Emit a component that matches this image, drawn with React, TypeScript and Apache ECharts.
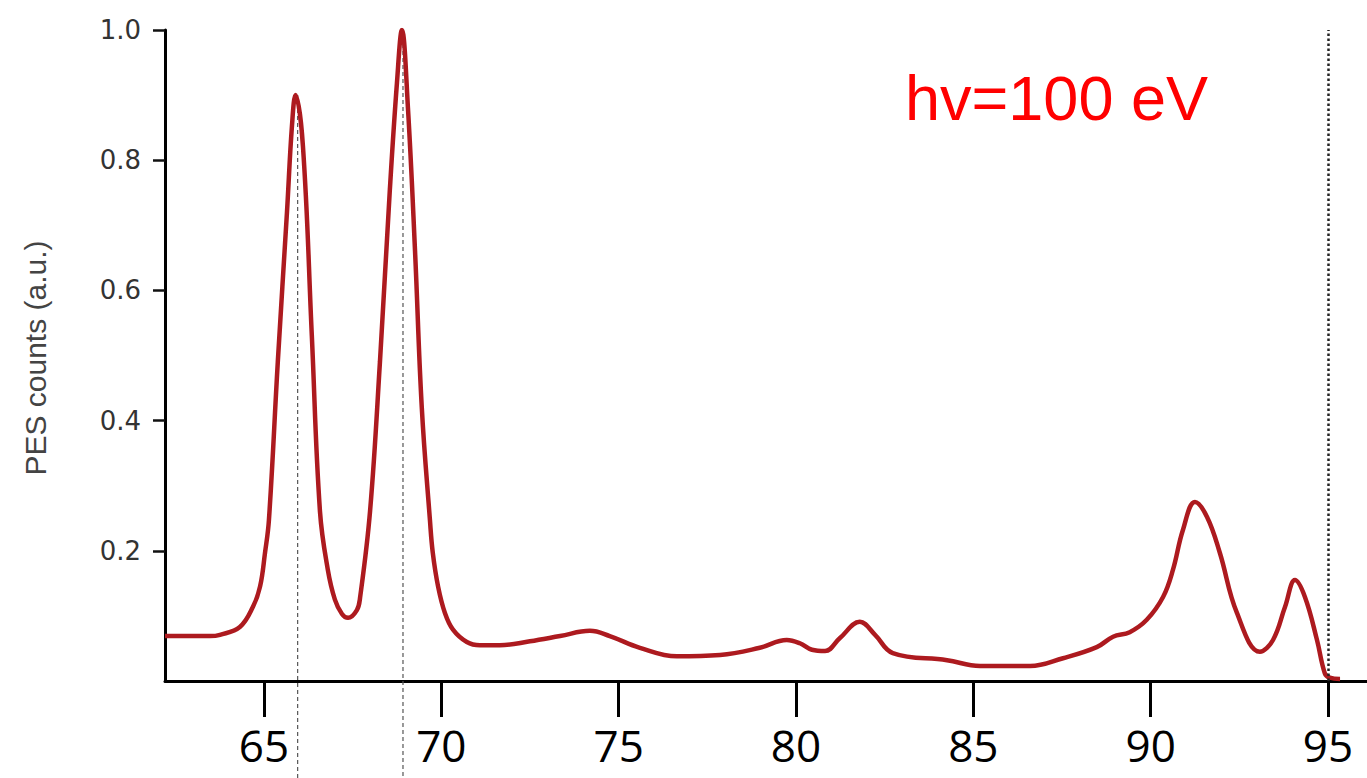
import React, { useEffect, useRef } from "react";
import * as echarts from "echarts";

// Binding energy (eV) and normalised PES counts
const energy: number[] = [
  62.21, 63.48, 63.76, 64.32, 64.69, 64.89, 65.03, 65.14, 65.39, 65.65,
  65.79, 65.89, 66.1, 66.35, 66.58, 66.8, 67.0, 67.2, 67.37, 67.62,
  67.71, 67.99, 68.27, 68.55, 68.75, 68.89, 69.06, 69.26, 69.45, 69.68,
  69.76, 69.91, 70.1, 70.33, 70.72, 71.09, 71.65, 72.5, 73.35, 74.19,
  74.75, 75.6, 76.64, 77.86, 78.98, 79.74, 80.11, 80.45, 80.82, 81.24,
  81.8, 82.23, 82.73, 84.26, 85.19, 86.6, 87.53, 88.48, 88.94, 89.41,
  89.89, 90.35, 90.63, 90.91, 91.25, 91.59, 91.95, 92.43, 93.08, 93.45,
  93.79, 94.07, 94.35, 94.69, 94.91, 95.05, 95.34,
];
const counts: number[] = [
  0.069, 0.069, 0.071, 0.083, 0.114, 0.145, 0.197, 0.247, 0.49, 0.721,
  0.853, 0.9, 0.821, 0.53, 0.26, 0.171, 0.125, 0.103, 0.097, 0.109,
  0.128, 0.26, 0.49, 0.755, 0.919, 1.0, 0.88, 0.66, 0.42, 0.247,
  0.197, 0.145, 0.105, 0.079, 0.06, 0.055, 0.055, 0.061, 0.069, 0.077,
  0.069, 0.051, 0.038, 0.04, 0.051, 0.063, 0.058, 0.048, 0.046, 0.066,
  0.091, 0.071, 0.043, 0.032, 0.023, 0.023, 0.035, 0.052, 0.068, 0.075,
  0.094, 0.129, 0.171, 0.232, 0.275, 0.252, 0.197, 0.105, 0.045, 0.063,
  0.114, 0.155, 0.129, 0.063, 0.012, 0.005, 0.003,
];

const xTicks: number[] = [65, 70, 75, 80, 85, 90, 95];
const yTicks: number[] = [0.2, 0.4, 0.6, 0.8, 1.0];

// Reference marker lines: [energy, top value]
const markerEnergies: number[] = [65.95, 68.92];
const markerTops: number[] = [0.9, 1.0];
const edgeEnergy = 95;

const yName = "PES counts (a.u.)";
const photonLabel = "hv=100 eV";

export default function App() {
  const ref = useRef<HTMLDivElement>(null);

  useEffect(() => {
    if (!ref.current) return;
    const chart = echarts.init(ref.current, null, { renderer: "svg" });
    const data = energy.map((e, i) => [e, counts[i]]);

    chart.setOption({
      animation: false,
      backgroundColor: "#ffffff",
      grid: { left: 165, right: 0, top: 30, bottom: 97, containLabel: false },
      xAxis: {
        type: "value",
        min: 62.21,
        max: 96.1,
        offset: 5,
        axisLine: { show: true, lineStyle: { color: "#000", width: 3 } },
        axisTick: {
          show: true,
          customValues: xTicks,
          length: 36,
          lineStyle: { color: "#000", width: 3 },
        },
        axisLabel: {
          customValues: xTicks,
          fontSize: 44,
          lineHeight: 44,
          fontFamily: "Open Sans",
          color: "#000",
          margin: 37,
        },
        splitLine: { show: false },
      },
      yAxis: {
        type: "value",
        min: 0,
        max: 1,
        axisLine: { show: true, lineStyle: { color: "#000", width: 3 } },
        axisTick: {
          show: true,
          customValues: yTicks,
          length: 12,
          lineStyle: { color: "#111", width: 2.5 },
        },
        axisLabel: {
          customValues: yTicks,
          formatter: (v: number) => v.toFixed(1),
          fontSize: 26,
          fontFamily: "DejaVu Sans",
          color: "#333",
          margin: 24,
        },
        splitLine: { show: false },
      },
      series: [
        {
          type: "line",
          data,
          smooth: 0.4,
          showSymbol: false,
          lineStyle: { color: "#ad1a1f", width: 4.5 },
          z: 3,
          markLine: {
            silent: true,
            symbol: ["none", "none"],
            label: { show: false },
            lineStyle: { color: "#222", width: 2.5, type: "dotted" },
            data: [{ xAxis: edgeEnergy }],
          },
        },
      ],
    });

    const graphics: any[] = [];
    markerEnergies.forEach((e, i) => {
      const top = chart.convertToPixel({ gridIndex: 0 }, [e, markerTops[i]]) as number[];
      graphics.push({
        type: "line",
        z: 2,
        shape: { x1: top[0], y1: top[1], x2: top[0], y2: 778 },
        style: { stroke: "#555", lineWidth: 1.2, lineDash: [4, 3] },
      });
    });
    graphics.push({
      type: "text",
      x: 35,
      y: 358,
      rotation: Math.PI / 2,
      style: {
        text: yName,
        fontSize: 30,
        fontFamily: "Liberation Sans",
        fill: "#444",
        textAlign: "center",
        textVerticalAlign: "middle",
      },
    });
    graphics.push({
      type: "text",
      x: 905,
      y: 98,
      style: {
        text: photonLabel,
        fontSize: 63,
        fontFamily: "Liberation Sans",
        fill: "#ff0000",
        textAlign: "left",
        textVerticalAlign: "middle",
      },
    });
    chart.setOption({ graphic: graphics });

    return () => chart.dispose();
  }, []);

  return (
    <div
      ref={ref}
      style={{ position: "fixed", left: 0, top: 0, width: 1367, height: 778, background: "#fff" }}
    />
  );
}
